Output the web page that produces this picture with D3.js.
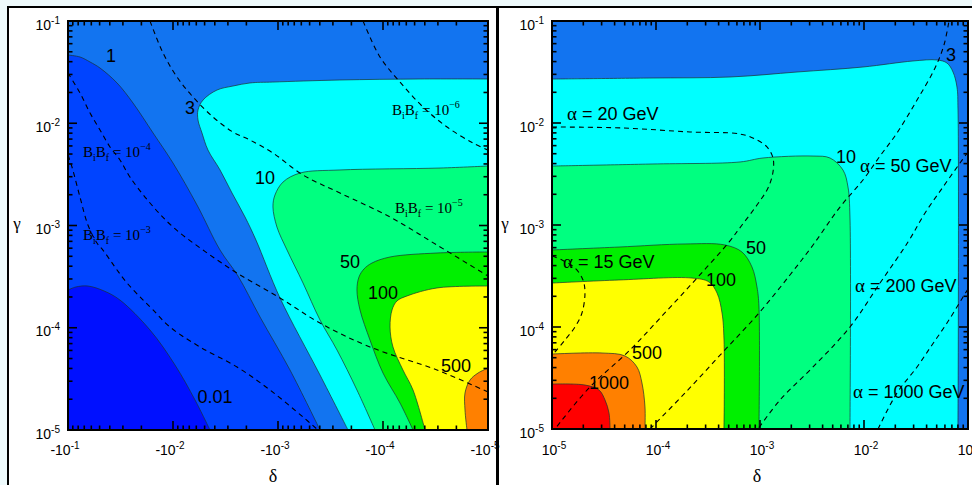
<!DOCTYPE html>
<html><head><meta charset="utf-8">
<script src="https://cdn.jsdelivr.net/npm/d3@7"></script>
<style>body{margin:0;background:#eefafc;} svg{display:block}</style>
</head><body><svg id="c" width="972" height="485"></svg>
<script>
// ---------- DATA (log10 values) ----------
// tick decades
const tickExps = [-1, -2, -3, -4, -5];
const leftXTickBase = "-10";
const rightXTickBase = "10";
const yTickBase = "10";

// LEFT PANEL contour boundaries: [log10|δ|, log10 γ]  (δ negative)
const L_lvl001 = [[-1.000,-3.631],[-1.076,-3.601],[-1.190,-3.592],[-1.343,-3.640],[-1.495,-3.729],[-1.781,-4.022],[-2.019,-4.364],[-2.210,-4.707],[-2.352,-5.000]];
const L_lvl1 = [[-1.000,-1.333],[-1.114,-1.352],[-1.210,-1.401],[-1.305,-1.460],[-1.467,-1.606],[-1.619,-1.802],[-1.810,-2.095],[-2.000,-2.389],[-2.229,-2.800],[-2.448,-3.240],[-2.619,-3.494],[-2.829,-3.895],[-3.114,-4.413],[-3.400,-5.000]];
const L_lvl3 = [[-3.667,-5.000],[-3.400,-4.462],[-3.019,-3.709],[-2.790,-3.142],[-2.686,-2.917],[-2.562,-2.682],[-2.448,-2.457],[-2.333,-2.262],[-2.276,-2.095],[-2.238,-1.968],[-2.238,-1.870],[-2.286,-1.773],[-2.419,-1.675],[-2.571,-1.636],[-2.733,-1.606],[-2.952,-1.597],[-3.590,-1.577],[-4.352,-1.567],[-5.000,-1.567]];
const L_lvl10 = [[-3.924,-5.000],[-3.752,-4.609],[-3.562,-4.218],[-3.400,-3.924],[-3.238,-3.562],[-3.086,-3.240],[-2.990,-3.015],[-2.952,-2.819],[-2.971,-2.702],[-3.048,-2.575],[-3.210,-2.487],[-3.590,-2.457],[-4.543,-2.438],[-5.000,-2.418]];
const L_lvl50 = [[-4.286,-5.000],[-4.162,-4.736],[-4.000,-4.443],[-3.876,-4.120],[-3.781,-3.826],[-3.752,-3.631],[-3.771,-3.504],[-3.819,-3.425],[-3.895,-3.367],[-4.067,-3.308],[-4.514,-3.269],[-5.000,-3.259]];
const L_lvl100 = [[-4.400,-5.000],[-4.286,-4.609],[-4.190,-4.413],[-4.095,-4.188],[-4.067,-3.993],[-4.086,-3.826],[-4.133,-3.738],[-4.229,-3.689],[-4.514,-3.611],[-5.000,-3.592]];
const L_lvl500 = [[-4.800,-5.000],[-4.781,-4.804],[-4.781,-4.638],[-4.829,-4.511],[-4.905,-4.443],[-5.000,-4.394]];

// LEFT PANEL dashed B_iB_f curves
const L_BB4 = [[-1.000,-1.509],[-1.114,-1.704],[-1.210,-1.900],[-1.305,-2.066],[-1.400,-2.232],[-1.495,-2.359],[-1.590,-2.526],[-1.781,-2.780],[-2.000,-3.015],[-2.286,-3.240],[-2.610,-3.465],[-3.019,-3.709],[-3.400,-3.954],[-3.876,-4.188],[-4.514,-4.413],[-5.000,-4.628]];
const L_BB3 = [[-1.000,-2.311],[-1.038,-2.428],[-1.114,-2.721],[-1.190,-2.995],[-1.276,-3.171],[-1.333,-3.240],[-1.400,-3.337],[-1.467,-3.435],[-1.562,-3.562],[-1.686,-3.699],[-1.810,-3.826],[-1.971,-3.993],[-2.257,-4.188],[-2.610,-4.384],[-2.924,-4.609],[-3.238,-4.873],[-3.381,-5.000]];
const L_BB5 = [[-1.781,-1.000],[-1.905,-1.313],[-2.038,-1.548],[-2.190,-1.743],[-2.381,-1.939],[-2.571,-2.086],[-2.733,-2.164],[-2.952,-2.291],[-3.238,-2.506],[-3.590,-2.682],[-4.067,-2.917],[-4.514,-3.191],[-5.000,-3.494]];
const L_BB6 = [[-3.810,-1.000],[-3.971,-1.352],[-4.162,-1.597],[-4.381,-1.841],[-4.610,-2.037],[-4.857,-2.193],[-5.000,-2.262]];

// LEFT labels: [text, log10|δ|, log10 γ]
const L_contourLabels = [["1",-1.410,-1.333],["3",-2.162,-1.851],["10",-2.876,-2.535],["50",-3.686,-3.357],["100",-4.000,-3.660],["500",-4.695,-4.374],["0.01",-2.400,-4.677]];
const L_bbLabels = [["\u22124",-1.143,-2.330],["\u22123",-1.143,-3.142],["\u22126",-4.086,-1.919],["\u22125",-4.114,-2.878]];

// RIGHT PANEL contour boundaries: [log10 δ, log10 γ]
const R_lvl3 = [[-5.000,-1.569],[-4.058,-1.559],[-3.288,-1.549],[-2.644,-1.500],[-2.010,-1.451],[-1.529,-1.392],[-1.298,-1.382],[-1.202,-1.412],[-1.144,-1.500],[-1.106,-1.647],[-1.096,-1.873],[-1.096,-5.000]];
const R_lvl10 = [[-5.000,-2.422],[-4.038,-2.402],[-3.192,-2.382],[-2.971,-2.343],[-2.490,-2.324],[-2.327,-2.343],[-2.202,-2.461],[-2.154,-2.627],[-2.135,-2.922],[-2.135,-5.000]];
const R_lvl50 = [[-5.000,-3.245],[-4.356,-3.216],[-3.721,-3.186],[-3.337,-3.196],[-3.173,-3.265],[-3.077,-3.412],[-3.029,-3.608],[-3.010,-3.804],[-3.010,-5.000]];
const R_lvl100 = [[-5.000,-3.569],[-4.356,-3.539],[-3.654,-3.520],[-3.490,-3.559],[-3.413,-3.667],[-3.365,-3.863],[-3.346,-4.127],[-3.346,-5.000]];
const R_lvl500 = [[-5.000,-4.265],[-4.519,-4.255],[-4.298,-4.284],[-4.183,-4.392],[-4.135,-4.549],[-4.106,-4.784],[-4.106,-5.000]];
const R_lvl1000 = [[-5.000,-4.559],[-4.683,-4.569],[-4.548,-4.618],[-4.490,-4.716],[-4.452,-4.843],[-4.442,-5.000]];

// RIGHT PANEL dashed α curves
const R_a20 = [[-5.000,-2.039],[-4.317,-2.049],[-3.673,-2.088],[-3.192,-2.108],[-3.048,-2.157],[-2.933,-2.235],[-2.875,-2.343],[-2.875,-2.480],[-2.923,-2.637],[-3.029,-2.804],[-3.173,-3.000],[-3.298,-3.167],[-3.606,-3.520],[-3.933,-3.882],[-4.250,-4.225],[-4.635,-4.588],[-4.904,-4.912],[-4.971,-5.000]];
const R_a15 = [[-5.000,-3.304],[-4.904,-3.343],[-4.779,-3.422],[-4.702,-3.539],[-4.683,-3.667],[-4.712,-3.863],[-4.779,-4.000],[-4.875,-4.127],[-4.971,-4.245],[-5.000,-4.275]];
const R_a50 = [[-4.058,-5.000],[-3.721,-4.647],[-3.365,-4.255],[-3.010,-3.863],[-2.712,-3.490],[-2.490,-3.196],[-2.231,-2.824],[-2.010,-2.559],[-1.846,-2.324],[-1.683,-2.098],[-1.490,-1.775],[-1.317,-1.461],[-1.231,-1.235],[-1.183,-1.000]];
const R_a200 = [[-1.000,-2.284],[-1.077,-2.392],[-1.240,-2.627],[-1.413,-2.882],[-1.577,-3.167],[-1.846,-3.569],[-2.135,-4.000],[-2.490,-4.392],[-2.808,-4.716],[-3.019,-5.000]];
const R_a1000 = [[-1.000,-3.627],[-1.048,-3.706],[-1.202,-3.961],[-1.346,-4.176],[-1.490,-4.392],[-1.683,-4.647],[-1.865,-5.000]];

const R_contourLabels = [["3",-1.163,-1.333],["10",-2.173,-2.333],["50",-3.038,-3.225],["100",-3.375,-3.539],["500",-4.087,-4.255],["1000",-4.452,-4.549]];
const R_alphaLabels = [["20",-4.856,-1.971],["15",-4.894,-3.422],["50",-2.038,-2.480],["200",-2.087,-3.657],["1000",-2.106,-4.696]];

// ---------- DRAWING ----------
const SANS = "'Liberation Sans', Arial, sans-serif";
const SERIF = "'Liberation Serif', 'Times New Roman', serif";
const C = {c0:"#0010ff", c1:"#0044ff", c2:"#1274f0", c3:"#00ffff", c4:"#00ff80", c5:"#00f000", c6:"#ffff00", c7:"#ff8000", c8:"#ff0000"};

const svg = d3.select("#c");
svg.append("rect").attr("width",972).attr("height",485).attr("fill","#eefafc");
svg.append("rect").attr("x",8).attr("y",7).attr("width",489).attr("height",520).attr("fill","#fff").attr("stroke","#000").attr("stroke-width",2);
svg.append("rect").attr("x",498).attr("y",7).attr("width",520).attr("height",520).attr("fill","#fff").attr("stroke","#000").attr("stroke-width",2);

const xL = d3.scaleLog().domain([-1e-1,-1e-5]).range([68,488]);
const yL = d3.scaleLog().domain([1e-5,1e-1]).range([430,21]);
const xR = d3.scaleLog().domain([1e-5,1e-1]).range([552,968]);
const yR = d3.scaleLog().domain([1e-5,1e-1]).range([429,21]);

const curve = d3.line().curve(d3.curveCatmullRom.alpha(0.5));

function panel(o){
  const g = svg.append("g");
  const X = v => o.x(o.sign*Math.pow(10,v));
  const Y = v => o.y(Math.pow(10,v));
  const P = p => [X(p[0]), Y(p[1])];
  const [xa,xb] = o.x.range(); const xl=Math.min(xa,xb), xr=Math.max(xa,xb);
  const yb = o.y.range()[0], yt = o.y.range()[1];
  const cid = "clip"+o.id;
  svg.append("defs").append("clipPath").attr("id",cid).append("rect")
     .attr("x",xl).attr("y",yt).attr("width",xr-xl).attr("height",yb-yt);
  const pg = g.append("g").attr("clip-path",`url(#${cid})`);
  pg.append("rect").attr("x",xl).attr("y",yt).attr("width",xr-xl).attr("height",yb-yt).attr("fill",o.base);
  o.regions.forEach(r=>{
    const pts = r.pts.map(P);
    const c = P(r.corner);
    pg.append("path").attr("d", curve(pts)+`L${c[0]},${c[1]}Z`).attr("fill",r.color);
  });
  o.regions.forEach(r=>{
    pg.append("path").attr("d", curve(r.pts.map(P))).attr("fill","none").attr("stroke","#1a3030").attr("stroke-width",0.7);
  });
  o.dashed.forEach(dd=>{
    pg.append("path").attr("d", curve(dd.map(P))).attr("fill","none").attr("stroke","#000").attr("stroke-width",1.1).attr("stroke-dasharray","5,4");
  });
  // contour labels
  o.labels.forEach(l=>{
    g.append("text").attr("x",X(l[1])).attr("y",Y(l[2])).attr("dy","0.36em").attr("text-anchor","middle")
      .attr("font-family",SANS).attr("font-size",18).attr("fill","#000").text(l[0]);
  });
  if(o.extra) o.extra(g,X,Y);
  // frame
  g.append("rect").attr("x",xl).attr("y",yt).attr("width",xr-xl).attr("height",yb-yt).attr("fill","none").attr("stroke","#000").attr("stroke-width",2);
  // ticks
  const ticks=[];
  tickExps.forEach(e=>{ ticks.push({v:Math.pow(10,e),maj:true}); });
  tickExps.forEach(e=>{ if(e<-1) for(let m=2;m<=9;m++) ticks.push({v:m*Math.pow(10,e),maj:false}); });
  const tk = g.append("g").attr("stroke","#000").attr("stroke-width",1.6);
  ticks.forEach(t=>{
    const len = t.maj?9:4.5;
    const xv = o.x(o.sign*t.v), yv = o.y(t.v);
    tk.append("line").attr("x1",xv).attr("x2",xv).attr("y1",yb).attr("y2",yb-len);
    tk.append("line").attr("x1",xv).attr("x2",xv).attr("y1",yt).attr("y2",yt+len);
    tk.append("line").attr("y1",yv).attr("y2",yv).attr("x1",xl).attr("x2",xl+len);
    tk.append("line").attr("y1",yv).attr("y2",yv).attr("x1",xr).attr("x2",xr-len);
  });
  // tick labels
  tickExps.forEach(e=>{
    const v=Math.pow(10,e);
    const ty = g.append("text").attr("x",xl-8).attr("y",o.y(v)+8.5).attr("text-anchor","end")
      .attr("font-family",SANS).attr("font-size",14).attr("fill","#000");
    ty.append("tspan").text(yTickBase);
    ty.append("tspan").attr("dy",-6).attr("font-size",10).text(String(e));
    const tx = g.append("text").attr("x",o.x(o.sign*v)+o.xlabOff).attr("y",455).attr("text-anchor","middle")
      .attr("font-family",SANS).attr("font-size",14).attr("fill","#000");
    tx.append("tspan").text(o.xbase);
    tx.append("tspan").attr("dy",-6).attr("font-size",10).text(String(e));
  });
  // axis titles
  g.append("text").attr("x",o.gx).attr("y",229).attr("text-anchor","middle").attr("font-family",SERIF).attr("font-size",17).text("\u03b3");
  g.append("text").attr("x",(xl+xr)/2+o.dOff).attr("y",482).attr("text-anchor","middle").attr("font-family",SERIF).attr("font-size",18).text("\u03b4");
}

panel({id:"L", x:xL, y:yL, sign:-1, base:C.c2, xbase:leftXTickBase, xlabOff:-3, gx:17, dOff:-5,
  regions:[
    {pts:L_lvl1, corner:[-1,-5], color:C.c1},
    {pts:L_lvl001, corner:[-1,-5], color:C.c0},
    {pts:L_lvl3, corner:[-5,-5], color:C.c3},
    {pts:L_lvl10, corner:[-5,-5], color:C.c4},
    {pts:L_lvl50, corner:[-5,-5], color:C.c5},
    {pts:L_lvl100, corner:[-5,-5], color:C.c6},
    {pts:L_lvl500, corner:[-5,-5], color:C.c7}
  ],
  dashed:[L_BB4, L_BB3, L_BB5, L_BB6],
  labels:L_contourLabels,
  extra:(g,X,Y)=>{
    L_bbLabels.forEach(l=>{
      const t=g.append("text").attr("x",X(l[1])).attr("y",Y(l[2])).attr("font-family",SERIF).attr("font-size",15).attr("fill","#000");
      t.append("tspan").text("B");
      t.append("tspan").attr("dy",4).attr("font-size",10).text("i");
      t.append("tspan").attr("dy",-4).text("B");
      t.append("tspan").attr("dy",4).attr("font-size",10).text("f");
      t.append("tspan").attr("dy",-4).text("\u00a0=\u00a010");
      t.append("tspan").attr("dy",-7).attr("font-size",10).text(l[0]);
    });
  }
});

panel({id:"R", x:xR, y:yR, sign:1, base:C.c2, xbase:rightXTickBase, xlabOff:2, gx:505, dOff:-3,
  regions:[
    {pts:R_lvl3, corner:[-5,-5], color:C.c3},
    {pts:R_lvl10, corner:[-5,-5], color:C.c4},
    {pts:R_lvl50, corner:[-5,-5], color:C.c5},
    {pts:R_lvl100, corner:[-5,-5], color:C.c6},
    {pts:R_lvl500, corner:[-5,-5], color:C.c7},
    {pts:R_lvl1000, corner:[-5,-5], color:C.c8}
  ],
  dashed:[R_a20, R_a15, R_a50, R_a200, R_a1000],
  labels:R_contourLabels,
  extra:(g,X,Y)=>{
    R_alphaLabels.forEach(l=>{
      const t=g.append("text").attr("x",X(l[1])).attr("y",Y(l[2])).attr("font-family",SANS).attr("font-size",18).attr("fill","#000");
      t.append("tspan").attr("font-family",SERIF).attr("font-size",19).text("\u03b1");
      t.append("tspan").text(`\u00a0=\u00a0${l[0]}\u00a0GeV`);
    });
  }
});
</script></body></html>
